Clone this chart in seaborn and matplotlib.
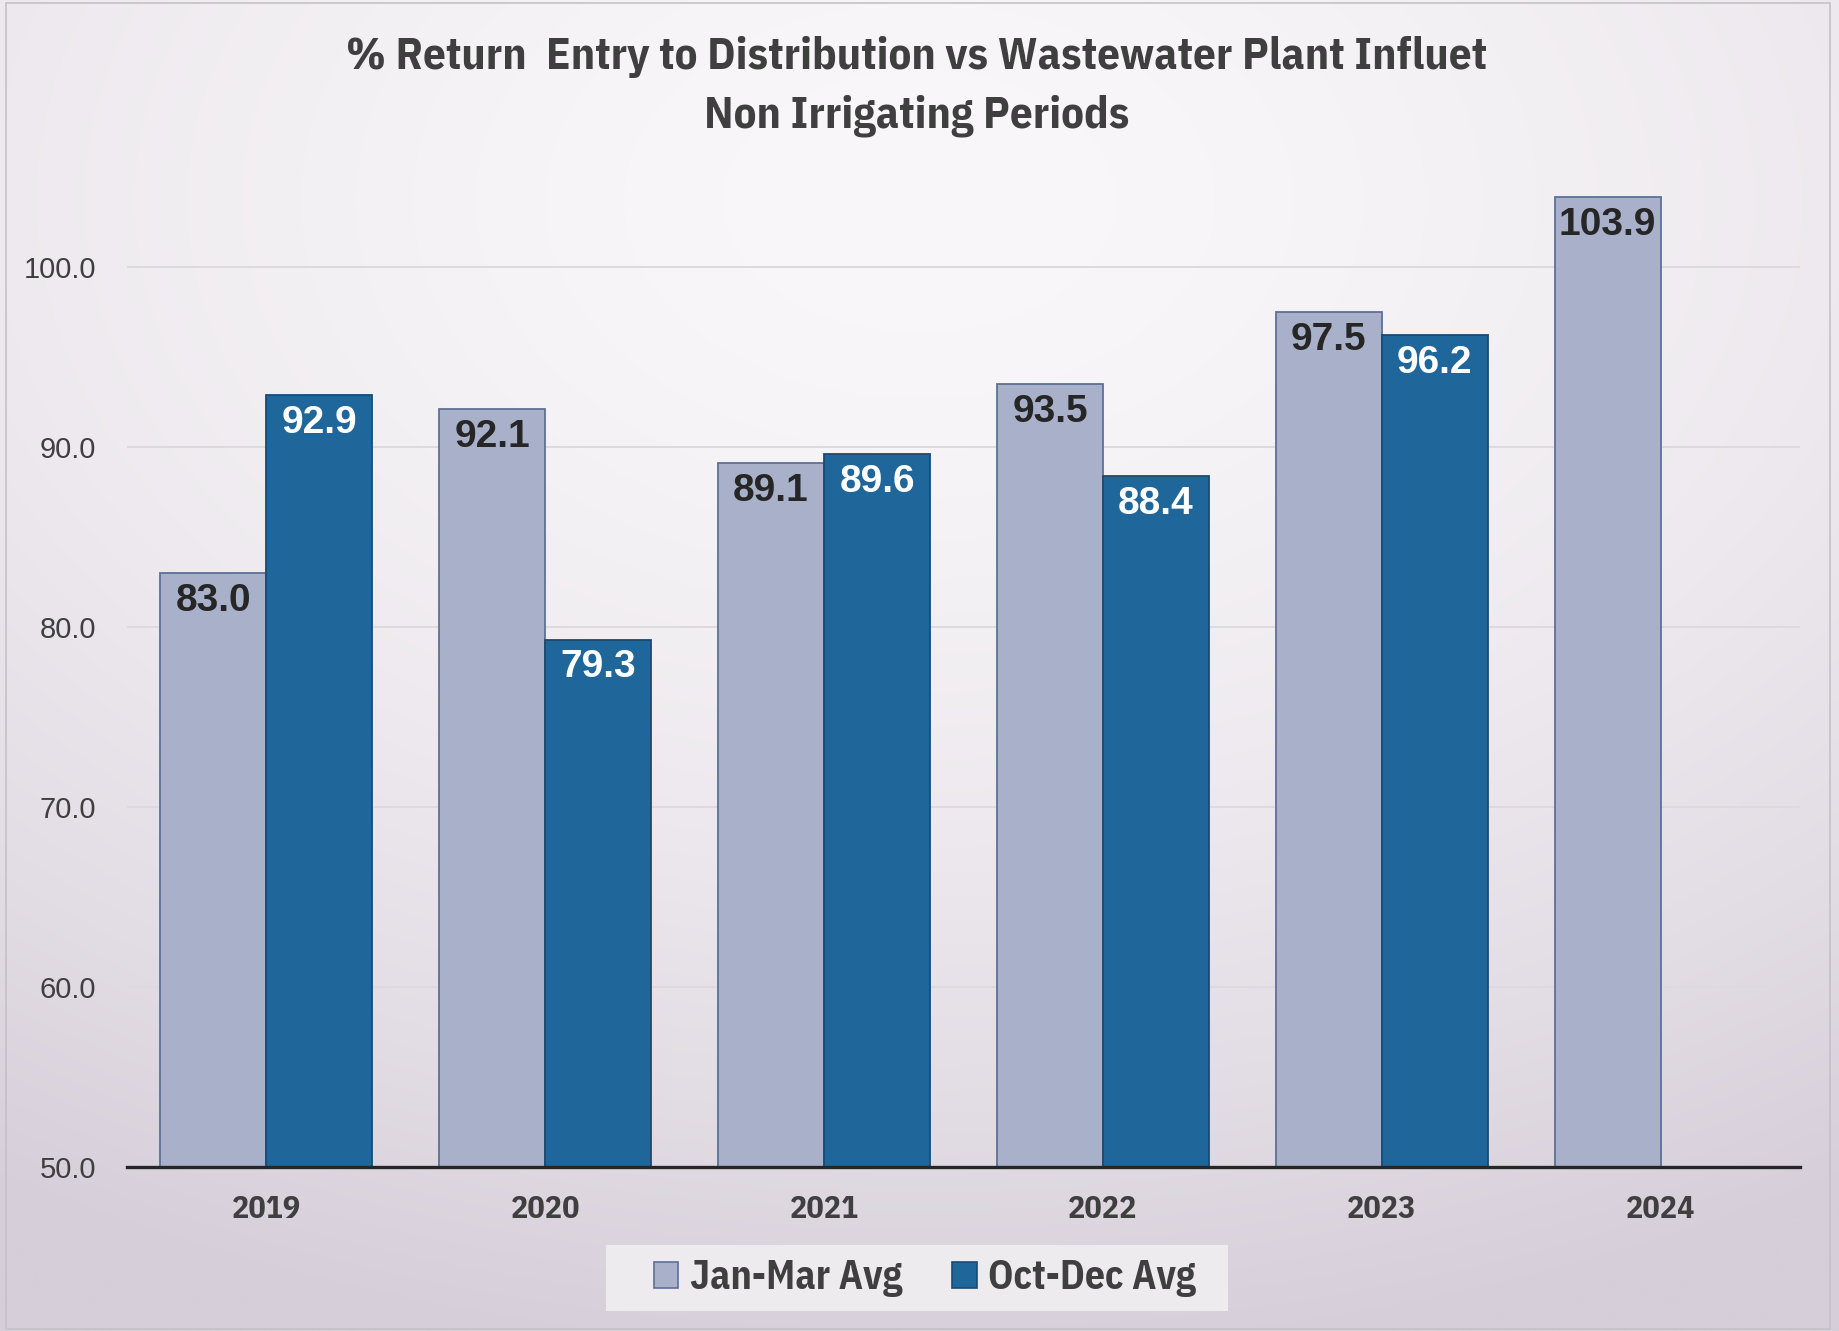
import numpy as np
import pandas as pd
import matplotlib
matplotlib.use("Agg")
import matplotlib.pyplot as plt
from matplotlib.patches import Patch, Rectangle
from matplotlib.colors import to_rgb
import seaborn as sns

# ---- data ---------------------------------------------------------------
years = ["2019", "2020", "2021", "2022", "2023", "2024"]
jan_mar = [83.0, 92.1, 89.1, 93.5, 97.5, 103.9]
oct_dec = [92.9, 79.3, 89.6, 88.4, 96.2, np.nan]
series_names = ["Jan-Mar Avg", "Oct-Dec Avg"]
y_ticks = [50.0, 60.0, 70.0, 80.0, 90.0, 100.0]

title_lines = ["% Return  Entry to Distribution vs Wastewater Plant Influet",
               "Non Irrigating Periods"]

# ---- style --------------------------------------------------------------
sns.set_theme(style="white")
plt.rcParams["font.family"] = ["Liberation Sans", "DejaVu Sans"]
NARROW = ["IBM Plex Sans Condensed", "DejaVu Sans"]

fill_colors = ["#A9B0C9", "#1F669A"]
edge_colors = ["#5D7096", "#1B4A73"]
label_colors = ["#262626", "#FFFFFF"]
text_dark = "#3F3F3F"

W, H, DPI = 1839, 1331, 100
fig = plt.figure(figsize=(W / DPI, H / DPI), dpi=DPI)

# soft background shading, light towards the top, lavender at the foot
bg = fig.add_axes([0, 0, 1, 1], zorder=-10)
yy, xx = np.mgrid[0:1:400j, 0:1:560j]
d = np.sqrt(((xx - 0.5) / 0.95) ** 2 + ((yy - 0.15) / 0.88) ** 2)
t = np.clip(d, 0, 1) ** 1.7
c_in = np.array(to_rgb("#F9F7F9"))
c_out = np.array(to_rgb("#D6CED9"))
img = c_in[None, None, :] * (1 - t[..., None]) + c_out[None, None, :] * t[..., None]
bg.imshow(img, extent=[0, 1, 1, 0], aspect="auto", interpolation="bilinear")
bg.set_xlim(0, 1)
bg.set_ylim(1, 0)
bg.axis("off")
bg.add_patch(Rectangle((6 / W, 3 / H), (1830 - 6) / W, (1329 - 3) / H,
                       fill=False, edgecolor="#C4C2C6", lw=1.2))
# light panel behind the legend
bg.add_patch(Rectangle((606 / W, 1245 / H), (1228 - 606) / W, (1311 - 1245) / H,
                       facecolor="#EDEBEE", edgecolor="none"))

# ---- bars ---------------------------------------------------------------
df = pd.DataFrame({
    "Year": years * 2,
    "Period": [series_names[0]] * len(years) + [series_names[1]] * len(years),
    "Value": jan_mar + oct_dec,
})

ax = fig.add_axes([127 / W, 1 - 1167 / H, (1800 - 127) / W, (1167 - 177) / H])
ax.set_facecolor("none")

sns.barplot(data=df.dropna(), x="Year", y="Value", hue="Period",
            order=years, hue_order=series_names, palette=fill_colors,
            width=0.76, gap=0, saturation=1, legend=False, ax=ax, zorder=3)

for cont, ec in zip(ax.containers, edge_colors):
    for p in cont.patches:
        p.set_edgecolor(ec)
        p.set_linewidth(1.3)

# value labels just inside the top of each bar
for cont, vals, lc in zip(ax.containers, [jan_mar, oct_dec], label_colors):
    shown = [v for v in vals if not np.isnan(v)]
    for p, v in zip(cont.patches, shown):
        ax.annotate(f"{v:.1f}", xy=(p.get_x() + p.get_width() / 2, v),
                    xytext=(0, -20), textcoords="offset points",
                    ha="center", va="center", fontsize=28,
                    fontweight="bold", color=lc, zorder=5)

# ---- axes ---------------------------------------------------------------
ax.set_ylim(50, 105)
ax.set_xlim(-0.5, len(years) - 0.5)
ax.set_yticks(y_ticks)
ax.set_yticklabels([f"{v:.1f}" for v in y_ticks], fontsize=21, color=text_dark)
ax.tick_params(axis="y", length=0, pad=22)
ax.tick_params(axis="x", length=0, pad=20)
for lbl in ax.get_xticklabels():
    lbl.set_fontfamily(NARROW)
    lbl.set_fontweight("bold")
    lbl.set_fontsize(23)
    lbl.set_color(text_dark)
ax.set_xlabel("")
ax.set_ylabel("")
ax.yaxis.grid(True, color="#DCDADF", lw=1.4, zorder=0)
ax.xaxis.grid(False)
for s in ["top", "left", "right"]:
    ax.spines[s].set_visible(False)
ax.spines["bottom"].set_color("#262626")
ax.spines["bottom"].set_linewidth(2.4)
ax.spines["bottom"].set_zorder(6)

# ---- title --------------------------------------------------------------
for line, ypix in zip(title_lines, [57, 116]):
    fig.text(917 / W, 1 - ypix / H, line, ha="center", va="center",
             fontsize=32.5, fontweight="bold", color=text_dark, family=NARROW)

# ---- legend -------------------------------------------------------------
handles = [Patch(facecolor=fc, edgecolor=ec, lw=1.2)
           for fc, ec in zip(fill_colors, edge_colors)]
leg = fig.legend(handles, series_names, loc="center",
                 bbox_to_anchor=(925 / W, 1 - 1278 / H), ncol=2,
                 frameon=False,
                 handlelength=0.62, handleheight=0.62, handletextpad=0.3,
                 columnspacing=1.25, borderpad=0.4, borderaxespad=0,
                 prop={"family": NARROW, "weight": "bold", "size": 28.5})
for txt in leg.get_texts():
    txt.set_color(text_dark)

fig.savefig("out.png", dpi=DPI)
